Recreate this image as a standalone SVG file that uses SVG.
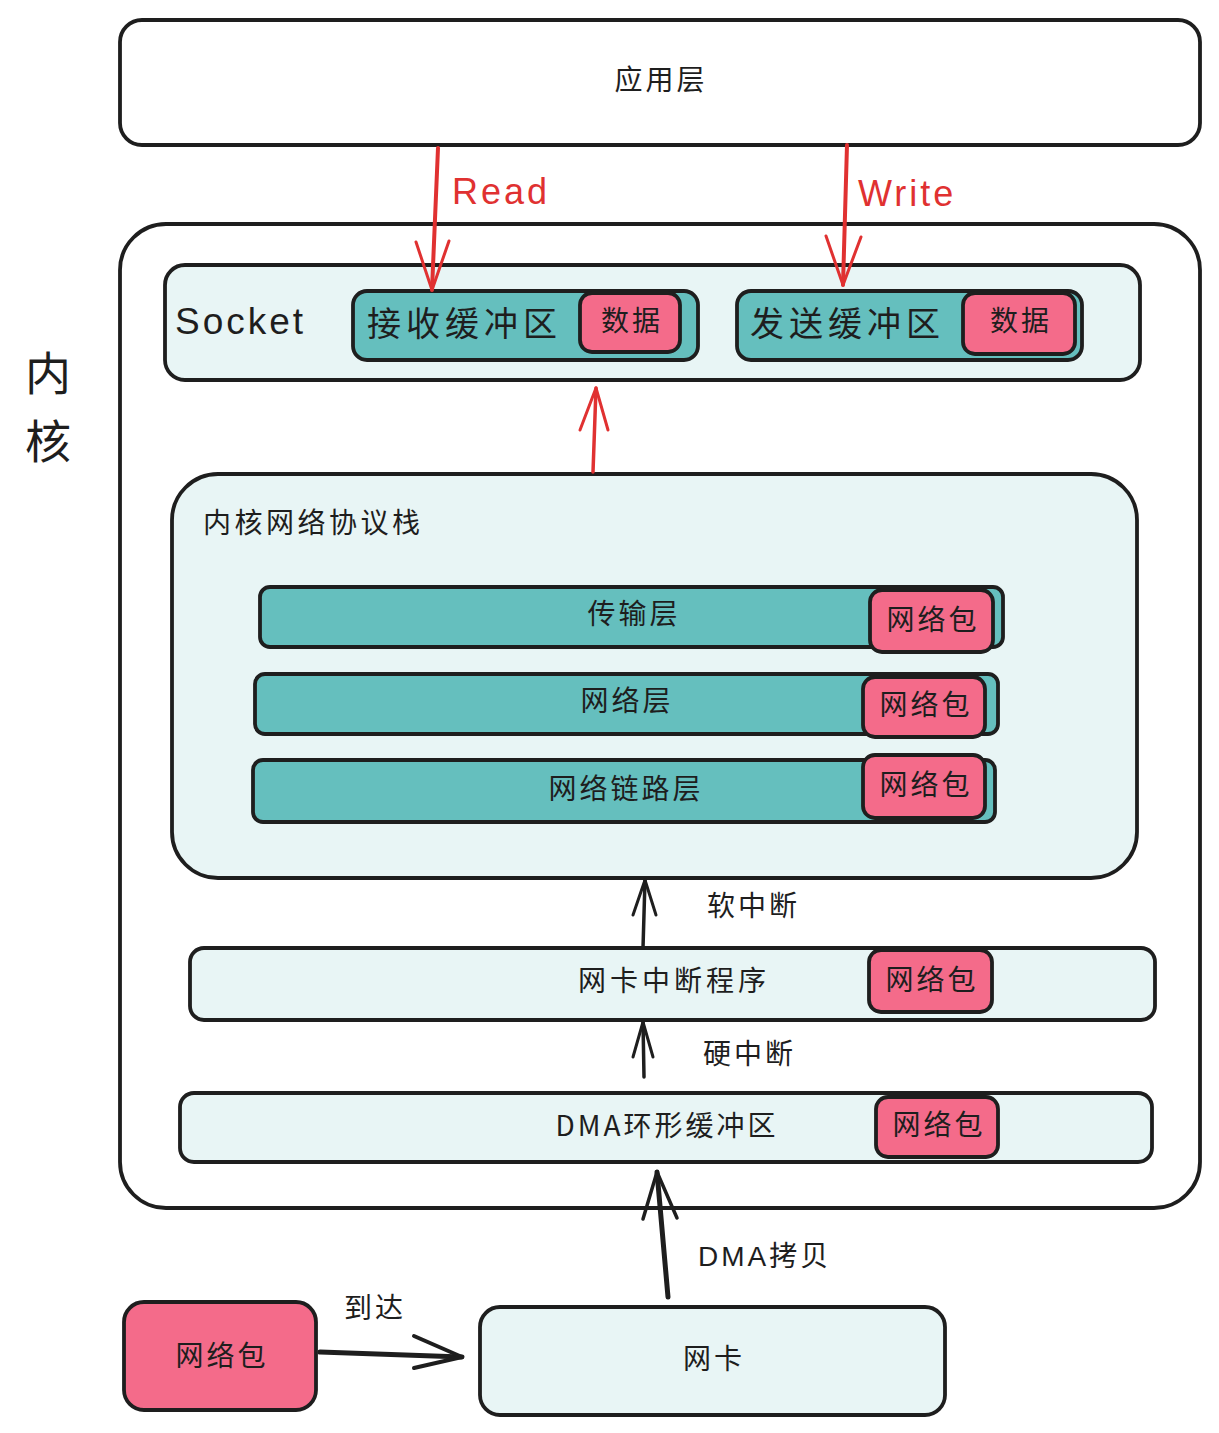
<svg xmlns="http://www.w3.org/2000/svg" width="1219" height="1433" viewBox="0 0 1219 1433">
<defs>
<style>
.box{stroke:#1e1e1e;stroke-width:3.8;}
.white{fill:#ffffff;}
.light{fill:#e8f5f5;}
.teal{fill:#65bfbe;}
.pink{fill:#f46b8a;}
text{font-family:"Noto Sans CJK SC","Noto Sans",sans-serif;fill:#1e1e1e;letter-spacing:3px;}
.lat{font-family:"Liberation Sans","Noto Sans CJK SC",sans-serif;letter-spacing:3px;}
.wide{letter-spacing:5px;}
.red{fill:#e03131;}
.conn{fill:none;stroke-linecap:round;stroke-linejoin:round;}
</style>
</defs>

<g id="app">
<rect class="box white" x="120" y="20" width="1080" height="125" rx="22"/>
<text x="661" y="90" font-size="28" text-anchor="middle">应用层</text>
</g>

<g id="kernel">
<rect class="box white" x="120" y="224" width="1080" height="984" rx="46"/>
<text x="48" y="390" font-size="46" text-anchor="middle" style="letter-spacing:0">内</text>
<text x="48" y="458" font-size="46" text-anchor="middle" style="letter-spacing:0">核</text>
</g>

<g id="socket">
<rect class="box light" x="165" y="265" width="975" height="115" rx="20"/>
<text class="lat" x="175" y="334" font-size="37">Socket</text>
</g>

<g id="recv-buf">
<rect class="box teal" x="353" y="291" width="345" height="69" rx="14"/>
<text class="wide" x="367" y="336" font-size="34">接收缓冲区</text>
</g>
<g id="recv-data">
<rect class="box pink" x="580" y="293" width="100" height="59" rx="12"/>
<text x="632" y="331" font-size="28" text-anchor="middle">数据</text>
</g>

<g id="send-buf">
<rect class="box teal" x="737" y="291" width="345" height="69" rx="14"/>
<text class="wide" x="750" y="336" font-size="34">发送缓冲区</text>
</g>
<g id="send-data">
<rect class="box pink" x="963" y="293" width="112" height="61" rx="12"/>
<text x="1021" y="331" font-size="28" text-anchor="middle">数据</text>
</g>

<g id="stack">
<rect class="box light" x="172" y="474" width="965" height="404" rx="46"/>
<text x="203" y="533" font-size="28" style="letter-spacing:3.5px">内核网络协议栈</text>
</g>

<g id="transport">
<rect class="box teal" x="260" y="587" width="743" height="60" rx="10"/>
<text x="634" y="624" font-size="28" text-anchor="middle">传输层</text>
</g>
<g id="transport-pkt">
<rect class="box pink" x="870" y="590" width="123" height="62" rx="12"/>
<text x="933" y="630" font-size="28" text-anchor="middle">网络包</text>
</g>

<g id="network">
<rect class="box teal" x="255" y="674" width="743" height="60" rx="10"/>
<text x="627" y="711" font-size="28" text-anchor="middle">网络层</text>
</g>
<g id="network-pkt">
<rect class="box pink" x="863" y="677" width="122" height="60" rx="12"/>
<text x="926" y="715" font-size="28" text-anchor="middle">网络包</text>
</g>

<g id="link">
<rect class="box teal" x="253" y="760" width="742" height="62" rx="10"/>
<text x="626" y="799" font-size="28" text-anchor="middle">网络链路层</text>
</g>
<g id="link-pkt">
<rect class="box pink" x="863" y="755" width="122" height="63" rx="12"/>
<text x="926" y="795" font-size="28" text-anchor="middle">网络包</text>
</g>

<g id="irq">
<rect class="box light" x="190" y="948" width="965" height="72" rx="14"/>
<text x="674" y="991" font-size="28" text-anchor="middle" style="letter-spacing:4px">网卡中断程序</text>
</g>
<g id="irq-pkt">
<rect class="box pink" x="869" y="950" width="123" height="62" rx="12"/>
<text x="932" y="990" font-size="28" text-anchor="middle">网络包</text>
</g>

<g id="dma">
<rect class="box light" x="180" y="1093" width="972" height="69" rx="14"/>
<text x="667" y="1136" font-size="28" text-anchor="middle">DMA环形缓冲区</text>
</g>
<g id="dma-pkt">
<rect class="box pink" x="876" y="1097" width="122" height="60" rx="12"/>
<text x="939" y="1135" font-size="28" text-anchor="middle">网络包</text>
</g>

<g id="packet">
<rect class="box pink" x="124" y="1302" width="192" height="108" rx="20"/>
<text x="222" y="1366" font-size="28" text-anchor="middle">网络包</text>
</g>

<g id="nic">
<rect class="box light" x="480" y="1307" width="465" height="108" rx="20"/>
<text x="714" y="1369" font-size="28" text-anchor="middle">网卡</text>
</g>

<g id="connectors">
<path class="conn" d="M438,148 L432,290" stroke="#e03131" stroke-width="4"/>
<path class="conn" d="M416,242 L432,290 L449,241" stroke="#e03131" stroke-width="3"/>
<text class="lat red" x="452" y="204" font-size="36">Read</text>

<path class="conn" d="M847,145 L843,285" stroke="#e03131" stroke-width="4"/>
<path class="conn" d="M826,236 L843,285 L861,237" stroke="#e03131" stroke-width="3"/>
<text class="lat red" x="858" y="206" font-size="36">Write</text>

<path class="conn" d="M593,472 L596,388" stroke="#e03131" stroke-width="3.5"/>
<path class="conn" d="M580,430 L596,388 L608,430" stroke="#e03131" stroke-width="3"/>

<path class="conn" d="M643,948 L645,880" stroke="#1e1e1e" stroke-width="3.5"/>
<path class="conn" d="M633,915 L645,880 L656,915" stroke="#1e1e1e" stroke-width="3"/>
<text x="707" y="916" font-size="28">软中断</text>

<path class="conn" d="M644,1077 L643,1022" stroke="#1e1e1e" stroke-width="3.5"/>
<path class="conn" d="M633,1057 L643,1022 L653,1057" stroke="#1e1e1e" stroke-width="3"/>
<text x="703" y="1064" font-size="28">硬中断</text>

<path class="conn" d="M668,1297 L657,1172" stroke="#1e1e1e" stroke-width="5"/>
<path class="conn" d="M643,1219 L657,1172 L677,1218" stroke="#1e1e1e" stroke-width="3.5"/>
<text x="698" y="1266" font-size="28"><tspan class="lat">DMA</tspan>拷贝</text>

<path class="conn" d="M320,1352 L462,1357" stroke="#1e1e1e" stroke-width="5"/>
<path class="conn" d="M414,1336 L462,1357 L414,1368" stroke="#1e1e1e" stroke-width="4"/>
<text x="344" y="1318" font-size="28">到达</text>
</g>
</svg>
